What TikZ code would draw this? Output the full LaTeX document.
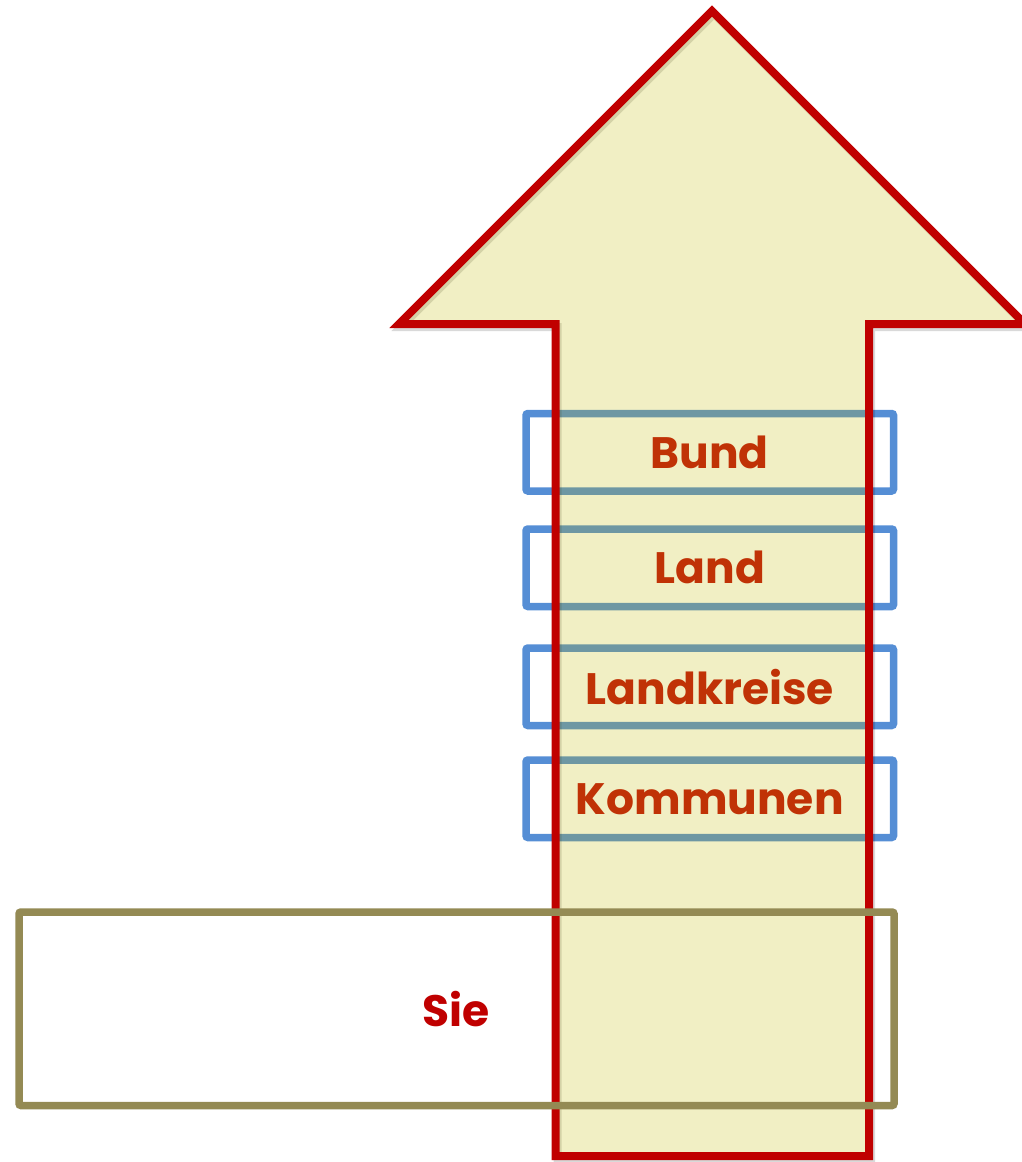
\documentclass[tikz,border=0pt]{standalone}
\usepackage{fontspec}
\setmainfont{Poppins}
\definecolor{boxblue}{RGB}{85,142,213}
\definecolor{arrowred}{RGB}{192,0,0}
\definecolor{arrowfill}{RGB}{194,185,0}
\definecolor{labelred}{RGB}{192,50,6}
\definecolor{sieolive}{RGB}{148,138,84}
\begin{document}
\begin{tikzpicture}[x=1pt,y=-1pt,
    level/.style={draw=boxblue,line width=7.5pt,rounded corners=2pt,
      minimum width=367.5pt,minimum height=77.5pt,inner sep=0pt},
    label/.style={text=labelred,font=\bfseries\fontsize{44}{52}\selectfont},
    arrowline/.style={line width=8pt,miter limit=20}]
  \useasboundingbox (0,0) rectangle (1022,1162);
  % levels (behind the arrow)
  \node[level] (bund) at (709.75,452.25) {};
  \node[level] (land) at (709.75,567.75) {};
  \node[level] (kreise) at (709.75,686.75) {};
  \node[level] (kommunen) at (709.75,798.75) {};
  % arrow
  \draw[arrowline,black,opacity=0.15,shift={(2,3)}]
    (712,11) -- (1025,324) -- (869,324) -- (869,1156) -- (555.5,1156)
    -- (555.5,324) -- (399,324) -- cycle;
  \draw[arrowline,draw=arrowred,fill=arrowfill,fill opacity=0.23]
    (712,11) -- (1025,324) -- (869,324) -- (869,1156) -- (555.5,1156)
    -- (555.5,324) -- (399,324) -- cycle;
  % you
  \node[draw=sieolive,line width=7.5pt,rounded corners=2pt,inner sep=0pt,
    minimum width=875pt,minimum height=193.5pt] (sie) at (456.5,1008.75) {};
  \node[label] at (bund.center) {Bund};
  \node[label] at (land.center) {Land};
  \node[label] at (kreise.center) {Landkreise};
  \node[label] at (kommunen.center) {Kommunen};
  \node[label,text=arrowred] at (sie.center) {Sie};
\end{tikzpicture}
\end{document}
